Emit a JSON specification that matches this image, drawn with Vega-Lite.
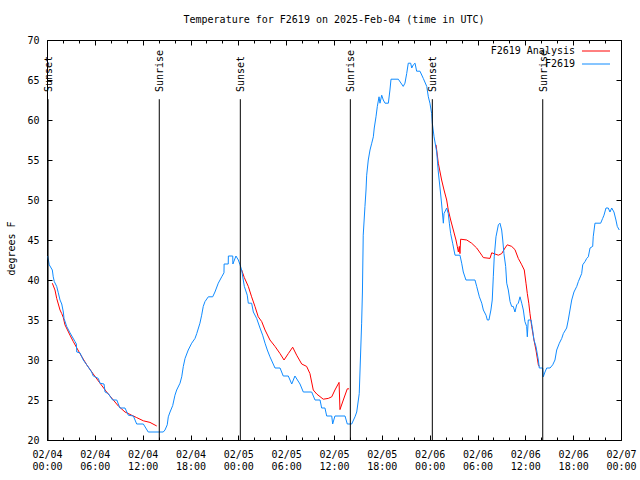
{
"$schema":"https://vega.github.io/schema/vega-lite/v6.json",
"width":574,"height":400,
"autosize":{"type":"none"},
"padding":{"left":47,"top":40,"right":19,"bottom":40},
"background":"#ffffff",
"title":{"text":"Temperature for F2619 on 2025-Feb-04 (time in UTC)","font":"DejaVu Sans Mono","fontSize":10,"fontWeight":"normal","color":"#000000","anchor":"middle","baseline":"alphabetic","offset":2,"frame":"group"},
"config":{
"view":{"stroke":null},
"font":"DejaVu Sans Mono",
"axis":{"labelFont":"DejaVu Sans Mono","labelFontSize":10,"labelColor":"#000000","titleFont":"DejaVu Sans Mono","titleFontSize":10,"titleFontWeight":"normal","titleColor":"#000000","tickColor":"#000000","domainColor":"#000000","grid":false,"tickWidth":1,"domainWidth":1}
},
"datasets":{
"obs":[
{"t":"2025-02-04T00:05Z","v":43},{"t":"2025-02-04T00:17Z","v":41.9},{"t":"2025-02-04T00:40Z","v":41.25},{"t":"2025-02-04T00:47Z","v":40.4},{"t":"2025-02-04T00:55Z","v":39.8},{"t":"2025-02-04T01:13Z","v":39.2},{"t":"2025-02-04T01:25Z","v":38.4},{"t":"2025-02-04T01:38Z","v":37.5},{"t":"2025-02-04T01:51Z","v":37},{"t":"2025-02-04T02:03Z","v":36},{"t":"2025-02-04T02:08Z","v":35.2},{"t":"2025-02-04T02:28Z","v":34.2},{"t":"2025-02-04T02:53Z","v":33.4},{"t":"2025-02-04T03:31Z","v":32.3},{"t":"2025-02-04T03:41Z","v":32},{"t":"2025-02-04T03:44Z","v":31},{"t":"2025-02-04T04:08Z","v":30.9},{"t":"2025-02-04T04:33Z","v":30},{"t":"2025-02-04T04:59Z","v":29.4},{"t":"2025-02-04T05:36Z","v":28.5},{"t":"2025-02-04T05:48Z","v":28},{"t":"2025-02-04T06:26Z","v":27.7},{"t":"2025-02-04T06:39Z","v":27.1},{"t":"2025-02-04T07:09Z","v":27},{"t":"2025-02-04T07:17Z","v":26},{"t":"2025-02-04T07:41Z","v":25.8},{"t":"2025-02-04T08:14Z","v":25},{"t":"2025-02-04T08:45Z","v":25},{"t":"2025-02-04T09:09Z","v":24},{"t":"2025-02-04T09:47Z","v":24},{"t":"2025-02-04T10:12Z","v":23.1},{"t":"2025-02-04T10:50Z","v":23},{"t":"2025-02-04T11:15Z","v":22},{"t":"2025-02-04T12:05Z","v":22},{"t":"2025-02-04T12:42Z","v":21},{"t":"2025-02-04T14:35Z","v":21},{"t":"2025-02-04T14:48Z","v":21.25},{"t":"2025-02-04T15:05Z","v":21.9},{"t":"2025-02-04T15:13Z","v":22.9},{"t":"2025-02-04T15:26Z","v":23.5},{"t":"2025-02-04T15:46Z","v":24.3},{"t":"2025-02-04T16:03Z","v":25.6},{"t":"2025-02-04T16:16Z","v":26.25},{"t":"2025-02-04T16:41Z","v":27.1},{"t":"2025-02-04T16:54Z","v":27.9},{"t":"2025-02-04T17:06Z","v":29.2},{"t":"2025-02-04T17:19Z","v":30.2},{"t":"2025-02-04T17:43Z","v":31.25},{"t":"2025-02-04T18:09Z","v":32.1},{"t":"2025-02-04T18:34Z","v":32.7},{"t":"2025-02-04T18:47Z","v":33.3},{"t":"2025-02-04T19:11Z","v":34.6},{"t":"2025-02-04T19:24Z","v":35.6},{"t":"2025-02-04T19:36Z","v":36.7},{"t":"2025-02-04T19:49Z","v":37.3},{"t":"2025-02-04T20:14Z","v":37.9},{"t":"2025-02-04T20:47Z","v":37.9},{"t":"2025-02-04T21:04Z","v":38.5},{"t":"2025-02-04T21:29Z","v":39.6},{"t":"2025-02-04T21:55Z","v":40.4},{"t":"2025-02-04T22:12Z","v":40.9},{"t":"2025-02-04T22:13Z","v":42},{"t":"2025-02-04T22:44Z","v":42},{"t":"2025-02-04T22:45Z","v":43},{"t":"2025-02-04T23:18Z","v":43},{"t":"2025-02-04T23:19Z","v":42},{"t":"2025-02-04T23:42Z","v":43},
{"t":"2025-02-05T00:00Z","v":42.5},{"t":"2025-02-05T00:13Z","v":41.9},{"t":"2025-02-05T00:25Z","v":41.25},{"t":"2025-02-05T00:45Z","v":39.2},{"t":"2025-02-05T01:07Z","v":38.1},{"t":"2025-02-05T01:15Z","v":37.1},{"t":"2025-02-05T01:40Z","v":37.1},{"t":"2025-02-05T01:53Z","v":36},{"t":"2025-02-05T02:18Z","v":35.2},{"t":"2025-02-05T02:43Z","v":34},{"t":"2025-02-05T03:03Z","v":33.1},{"t":"2025-02-05T03:21Z","v":32.1},{"t":"2025-02-05T03:38Z","v":31.25},{"t":"2025-02-05T03:58Z","v":30.4},{"t":"2025-02-05T04:36Z","v":29},{"t":"2025-02-05T05:14Z","v":29},{"t":"2025-02-05T05:38Z","v":28},{"t":"2025-02-05T06:16Z","v":28},{"t":"2025-02-05T06:42Z","v":27},{"t":"2025-02-05T07:06Z","v":28},{"t":"2025-02-05T07:44Z","v":27},{"t":"2025-02-05T08:09Z","v":26},{"t":"2025-02-05T09:12Z","v":26},{"t":"2025-02-05T09:37Z","v":25},{"t":"2025-02-05T10:15Z","v":25},{"t":"2025-02-05T10:27Z","v":24},{"t":"2025-02-05T10:52Z","v":24},{"t":"2025-02-05T11:05Z","v":23},{"t":"2025-02-05T11:43Z","v":23},{"t":"2025-02-05T11:50Z","v":22},{"t":"2025-02-05T12:07Z","v":23},{"t":"2025-02-05T13:23Z","v":23},{"t":"2025-02-05T13:40Z","v":22},{"t":"2025-02-05T14:13Z","v":22},{"t":"2025-02-05T14:38Z","v":22.9},{"t":"2025-02-05T14:51Z","v":23.5},{"t":"2025-02-05T15:10Z","v":25.8},{"t":"2025-02-05T15:28Z","v":34.6},{"t":"2025-02-05T15:34Z","v":38.5},{"t":"2025-02-05T15:40Z","v":45.6},{"t":"2025-02-05T15:53Z","v":49.2},{"t":"2025-02-05T16:01Z","v":51.25},{"t":"2025-02-05T16:06Z","v":53.1},{"t":"2025-02-05T16:18Z","v":55},{"t":"2025-02-05T16:31Z","v":56.25},{"t":"2025-02-05T16:44Z","v":57.1},{"t":"2025-02-05T16:56Z","v":57.9},{"t":"2025-02-05T17:03Z","v":59},{"t":"2025-02-05T17:16Z","v":60.4},{"t":"2025-02-05T17:26Z","v":61.7},{"t":"2025-02-05T17:39Z","v":62.9},{"t":"2025-02-05T17:46Z","v":62.1},{"t":"2025-02-05T17:59Z","v":63.1},{"t":"2025-02-05T18:11Z","v":62.5},{"t":"2025-02-05T18:24Z","v":62.1},{"t":"2025-02-05T18:49Z","v":62.1},{"t":"2025-02-05T19:01Z","v":63.75},{"t":"2025-02-05T19:09Z","v":65.1},{"t":"2025-02-05T20:04Z","v":65.1},{"t":"2025-02-05T20:41Z","v":64.2},{"t":"2025-02-05T20:54Z","v":64.6},{"t":"2025-02-05T21:07Z","v":65.8},{"t":"2025-02-05T21:19Z","v":67.1},{"t":"2025-02-05T21:37Z","v":67.1},{"t":"2025-02-05T21:45Z","v":66.5},{"t":"2025-02-05T21:57Z","v":66.9},{"t":"2025-02-05T22:10Z","v":67.1},{"t":"2025-02-05T22:22Z","v":66.1},{"t":"2025-02-05T22:47Z","v":66.1},{"t":"2025-02-05T23:12Z","v":65.2},{"t":"2025-02-05T23:38Z","v":64.2},{"t":"2025-02-05T23:50Z","v":62.9},
{"t":"2025-02-06T00:02Z","v":62.1},{"t":"2025-02-06T00:15Z","v":60.8},{"t":"2025-02-06T00:20Z","v":59.6},{"t":"2025-02-06T00:33Z","v":57.9},{"t":"2025-02-06T00:53Z","v":56},{"t":"2025-02-06T01:05Z","v":53.5},{"t":"2025-02-06T01:18Z","v":51.5},{"t":"2025-02-06T01:30Z","v":49.5},{"t":"2025-02-06T01:43Z","v":47.1},{"t":"2025-02-06T01:48Z","v":48.3},{"t":"2025-02-06T02:08Z","v":49},{"t":"2025-02-06T02:20Z","v":48.3},{"t":"2025-02-06T02:28Z","v":47.1},{"t":"2025-02-06T02:38Z","v":45.8},{"t":"2025-02-06T02:53Z","v":44.6},{"t":"2025-02-06T03:03Z","v":43.75},{"t":"2025-02-06T03:11Z","v":43.1},{"t":"2025-02-06T03:48Z","v":43.1},{"t":"2025-02-06T04:01Z","v":42.1},{"t":"2025-02-06T04:13Z","v":41},{"t":"2025-02-06T04:33Z","v":40},{"t":"2025-02-06T05:41Z","v":40},{"t":"2025-02-06T05:54Z","v":39.2},{"t":"2025-02-06T06:14Z","v":37.9},{"t":"2025-02-06T06:32Z","v":37.1},{"t":"2025-02-06T06:44Z","v":36.25},{"t":"2025-02-06T07:04Z","v":35.6},{"t":"2025-02-06T07:14Z","v":35},{"t":"2025-02-06T07:26Z","v":35},{"t":"2025-02-06T07:41Z","v":36.25},{"t":"2025-02-06T07:51Z","v":37.5},{"t":"2025-02-06T07:59Z","v":40.4},{"t":"2025-02-06T08:06Z","v":42.9},{"t":"2025-02-06T08:19Z","v":45.4},{"t":"2025-02-06T08:37Z","v":46.9},{"t":"2025-02-06T08:49Z","v":47.1},{"t":"2025-02-06T09:02Z","v":46.25},{"t":"2025-02-06T09:10Z","v":45},{"t":"2025-02-06T09:19Z","v":43.3},{"t":"2025-02-06T09:32Z","v":41.7},{"t":"2025-02-06T09:40Z","v":39.6},{"t":"2025-02-06T09:52Z","v":38.75},{"t":"2025-02-06T10:05Z","v":37.3},{"t":"2025-02-06T10:17Z","v":36.7},{"t":"2025-02-06T10:29Z","v":36.7},{"t":"2025-02-06T10:42Z","v":36},{"t":"2025-02-06T10:55Z","v":36.9},{"t":"2025-02-06T11:07Z","v":37.1},{"t":"2025-02-06T11:20Z","v":37.9},{"t":"2025-02-06T11:33Z","v":37.1},{"t":"2025-02-06T11:45Z","v":36.25},{"t":"2025-02-06T11:57Z","v":34.8},{"t":"2025-02-06T12:10Z","v":34.2},{"t":"2025-02-06T12:15Z","v":32.9},{"t":"2025-02-06T12:22Z","v":35},{"t":"2025-02-06T12:43Z","v":35},{"t":"2025-02-06T12:55Z","v":33.75},{"t":"2025-02-06T13:05Z","v":32.5},{"t":"2025-02-06T13:20Z","v":31.7},{"t":"2025-02-06T13:38Z","v":30},{"t":"2025-02-06T13:45Z","v":29},{"t":"2025-02-06T14:11Z","v":29},{"t":"2025-02-06T14:15Z","v":27.9},{"t":"2025-02-06T14:28Z","v":28.5},{"t":"2025-02-06T14:41Z","v":29},{"t":"2025-02-06T15:06Z","v":29},{"t":"2025-02-06T15:26Z","v":29.4},{"t":"2025-02-06T15:43Z","v":30},{"t":"2025-02-06T15:56Z","v":31.25},{"t":"2025-02-06T16:16Z","v":32.1},{"t":"2025-02-06T16:34Z","v":32.7},{"t":"2025-02-06T16:46Z","v":33.3},{"t":"2025-02-06T17:11Z","v":34},{"t":"2025-02-06T17:23Z","v":35},{"t":"2025-02-06T17:36Z","v":36.25},{"t":"2025-02-06T17:49Z","v":37.5},{"t":"2025-02-06T18:06Z","v":38.5},{"t":"2025-02-06T18:27Z","v":39.2},{"t":"2025-02-06T18:39Z","v":39.8},{"t":"2025-02-06T19:04Z","v":40.8},{"t":"2025-02-06T19:12Z","v":41.9},{"t":"2025-02-06T19:29Z","v":42.3},{"t":"2025-02-06T19:42Z","v":42.7},{"t":"2025-02-06T19:54Z","v":42.9},{"t":"2025-02-06T20:07Z","v":44},{"t":"2025-02-06T20:27Z","v":44.2},{"t":"2025-02-06T20:31Z","v":45.4},{"t":"2025-02-06T20:44Z","v":47.1},{"t":"2025-02-06T21:27Z","v":47.1},{"t":"2025-02-06T21:42Z","v":47.7},{"t":"2025-02-06T21:52Z","v":48.1},{"t":"2025-02-06T22:07Z","v":49},{"t":"2025-02-06T22:24Z","v":49},{"t":"2025-02-06T22:37Z","v":48.5},{"t":"2025-02-06T22:50Z","v":49},{"t":"2025-02-06T23:07Z","v":48.5},{"t":"2025-02-06T23:22Z","v":47.5},{"t":"2025-02-06T23:32Z","v":46.7},{"t":"2025-02-06T23:47Z","v":46.25}
],
"ana":[
{"t":"2025-02-04T00:40Z","v":39.6,"seg":1},{"t":"2025-02-04T01:00Z","v":38.75,"seg":1},{"t":"2025-02-04T01:13Z","v":37.7,"seg":1},{"t":"2025-02-04T01:38Z","v":36.25,"seg":1},{"t":"2025-02-04T01:51Z","v":35.8,"seg":1},{"t":"2025-02-04T02:03Z","v":35.3,"seg":1},{"t":"2025-02-04T02:15Z","v":34.4,"seg":1},{"t":"2025-02-04T02:53Z","v":33.1,"seg":1},{"t":"2025-02-04T03:18Z","v":32.3,"seg":1},{"t":"2025-02-04T04:08Z","v":30.8,"seg":1},{"t":"2025-02-04T04:59Z","v":29.4,"seg":1},{"t":"2025-02-04T05:48Z","v":28.25,"seg":1},{"t":"2025-02-04T06:39Z","v":27.1,"seg":1},{"t":"2025-02-04T07:29Z","v":26,"seg":1},{"t":"2025-02-04T08:19Z","v":25,"seg":1},{"t":"2025-02-04T08:57Z","v":24.25,"seg":1},{"t":"2025-02-04T09:47Z","v":23.5,"seg":1},{"t":"2025-02-04T10:37Z","v":23.1,"seg":1},{"t":"2025-02-04T11:15Z","v":22.8,"seg":1},{"t":"2025-02-04T12:05Z","v":22.4,"seg":1},{"t":"2025-02-04T12:55Z","v":22.2,"seg":1},{"t":"2025-02-04T13:46Z","v":21.75,"seg":1},
{"t":"2025-02-05T00:25Z","v":41.25,"seg":2},{"t":"2025-02-05T00:45Z","v":40.3,"seg":2},{"t":"2025-02-05T01:15Z","v":39.2,"seg":2},{"t":"2025-02-05T01:40Z","v":37.9,"seg":2},{"t":"2025-02-05T02:05Z","v":36.7,"seg":2},{"t":"2025-02-05T02:30Z","v":35.4,"seg":2},{"t":"2025-02-05T02:56Z","v":34.8,"seg":2},{"t":"2025-02-05T03:21Z","v":33.75,"seg":2},{"t":"2025-02-05T03:58Z","v":32.5,"seg":2},{"t":"2025-02-05T04:36Z","v":31.7,"seg":2},{"t":"2025-02-05T05:14Z","v":30.8,"seg":2},{"t":"2025-02-05T05:44Z","v":30,"seg":2},{"t":"2025-02-05T06:16Z","v":30.8,"seg":2},{"t":"2025-02-05T06:49Z","v":31.6,"seg":2},{"t":"2025-02-05T07:19Z","v":30.6,"seg":2},{"t":"2025-02-05T07:57Z","v":29.5,"seg":2},{"t":"2025-02-05T08:34Z","v":29.2,"seg":2},{"t":"2025-02-05T08:59Z","v":28.3,"seg":2},{"t":"2025-02-05T09:24Z","v":26.25,"seg":2},{"t":"2025-02-05T09:50Z","v":25.75,"seg":2},{"t":"2025-02-05T10:39Z","v":25.1,"seg":2},{"t":"2025-02-05T11:17Z","v":25.2,"seg":2},{"t":"2025-02-05T11:43Z","v":25.4,"seg":2},{"t":"2025-02-05T12:07Z","v":26.25,"seg":2},{"t":"2025-02-05T12:38Z","v":27.2,"seg":2},{"t":"2025-02-05T12:45Z","v":23.8,"seg":2},{"t":"2025-02-05T13:10Z","v":25,"seg":2},{"t":"2025-02-05T13:40Z","v":26.4,"seg":2},{"t":"2025-02-05T13:53Z","v":26.4,"seg":2},
{"t":"2025-02-06T00:48Z","v":56.9,"seg":3},{"t":"2025-02-06T01:05Z","v":54.6,"seg":3},{"t":"2025-02-06T01:30Z","v":52.5,"seg":3},{"t":"2025-02-06T01:48Z","v":51.25,"seg":3},{"t":"2025-02-06T02:08Z","v":50,"seg":3},{"t":"2025-02-06T02:20Z","v":48.75,"seg":3},{"t":"2025-02-06T02:38Z","v":47.5,"seg":3},{"t":"2025-02-06T02:58Z","v":46.25,"seg":3},{"t":"2025-02-06T03:18Z","v":45,"seg":3},{"t":"2025-02-06T03:28Z","v":44.2,"seg":3},{"t":"2025-02-06T03:36Z","v":43.5,"seg":3},{"t":"2025-02-06T03:43Z","v":44.2,"seg":3},{"t":"2025-02-06T03:48Z","v":43.3,"seg":3},{"t":"2025-02-06T03:53Z","v":45.1,"seg":3},{"t":"2025-02-06T04:39Z","v":45,"seg":3},{"t":"2025-02-06T05:16Z","v":44.6,"seg":3},{"t":"2025-02-06T05:54Z","v":44,"seg":3},{"t":"2025-02-06T06:32Z","v":43.1,"seg":3},{"t":"2025-02-06T06:44Z","v":42.8,"seg":3},{"t":"2025-02-06T07:34Z","v":42.7,"seg":3},{"t":"2025-02-06T07:47Z","v":43.4,"seg":3},{"t":"2025-02-06T08:12Z","v":43.25,"seg":3},{"t":"2025-02-06T08:37Z","v":43.1,"seg":3},{"t":"2025-02-06T09:02Z","v":43.3,"seg":3},{"t":"2025-02-06T09:27Z","v":44,"seg":3},{"t":"2025-02-06T09:44Z","v":44.4,"seg":3},{"t":"2025-02-06T10:17Z","v":44.2,"seg":3},{"t":"2025-02-06T10:42Z","v":43.8,"seg":3},{"t":"2025-02-06T11:07Z","v":42.7,"seg":3},{"t":"2025-02-06T11:33Z","v":41.9,"seg":3},{"t":"2025-02-06T11:52Z","v":41.25,"seg":3},{"t":"2025-02-06T12:05Z","v":39.6,"seg":3},{"t":"2025-02-06T12:15Z","v":38.3,"seg":3},{"t":"2025-02-06T12:26Z","v":37.1,"seg":3},{"t":"2025-02-06T12:35Z","v":35.8,"seg":3},{"t":"2025-02-06T12:48Z","v":34.2,"seg":3},{"t":"2025-02-06T13:05Z","v":32.5,"seg":3},{"t":"2025-02-06T13:20Z","v":31.25,"seg":3},{"t":"2025-02-06T13:38Z","v":29.4,"seg":3},{"t":"2025-02-06T13:45Z","v":29.2,"seg":3}
],
"events":[
{"t":"2025-02-04T00:08Z","label":"Sunset"},{"t":"2025-02-04T14:05Z","label":"Sunrise"},{"t":"2025-02-05T00:15Z","label":"Sunset"},{"t":"2025-02-05T14:03Z","label":"Sunrise"},{"t":"2025-02-06T00:20Z","label":"Sunset"},{"t":"2025-02-06T14:11Z","label":"Sunrise"}
]
},
"layer":[
{
"data":{"name":"ana"},
"mark":{"type":"line","strokeWidth":1},
"encoding":{
"x":{"field":"t","type":"temporal","scale":{"type":"utc","domain":[1738627200000,1738886400000]},
"axis":{"orient":"bottom","title":null,"values":[1738627200000,1738648800000,1738670400000,1738692000000,1738713600000,1738735200000,1738756800000,1738778400000,1738800000000,1738821600000,1738843200000,1738864800000,1738886400000],"tickSize":-5,"labelPadding":14,"labelExpr":"[utcFormat(datum.value,'%m/%d'), utcFormat(datum.value,'%H:%M')]","labelLineHeight":12,"labelBaseline":"top","labelFlush":false,"labelOverlap":false,"domain":true}},
"y":{"field":"v","type":"quantitative","scale":{"domain":[20,70],"nice":false,"zero":false},
"axis":{"orient":"left","title":"degrees F","values":[20,25,30,35,40,45,50,55,60,65,70],"tickSize":-5,"labelPadding":13,"titleX":-36,"titleY":208,"titleAngle":270,"titleAlign":"center","titleBaseline":"middle","domain":true}},
"color":{"datum":"F2619 Analysis","type":"nominal","scale":{"domain":["F2619 Analysis","F2619"],"range":["#ff0000","#0f8bff"]},
"legend":{"orient":"none","legendX":542,"legendY":4,"title":null,"symbolType":"M-2.154,0H2.154","symbolSize":169,"symbolStrokeWidth":1,"labelAlign":"right","labelOffset":-28,"labelFont":"DejaVu Sans Mono","labelFontSize":10,"labelColor":"#000000","padding":0,"rowPadding":1,"labelLimit":300,
"encode":{"symbols":{"update":{"stroke":{"scale":"color","field":"value"},"strokeWidth":{"value":1},"strokeOpacity":{"value":1},"opacity":{"value":1}}}}}},
"detail":{"field":"seg","type":"nominal"}
}
},
{
"data":{"name":"obs"},
"mark":{"type":"line","strokeWidth":1},
"encoding":{
"x":{"field":"t","type":"temporal","axis":{"orient":"bottom","title":null,"values":[1738627200000,1738634400000,1738641600000,1738648800000,1738656000000,1738663200000,1738670400000,1738677600000,1738684800000,1738692000000,1738699200000,1738706400000,1738713600000,1738720800000,1738728000000,1738735200000,1738742400000,1738749600000,1738756800000,1738764000000,1738771200000,1738778400000,1738785600000,1738792800000,1738800000000,1738807200000,1738814400000,1738821600000,1738828800000,1738836000000,1738843200000,1738850400000,1738857600000,1738864800000,1738872000000,1738879200000,1738886400000],"tickSize":-3,"labels":false,"domain":false}},
"y":{"field":"v","type":"quantitative","axis":{"orient":"right","title":null,"values":[20,25,30,35,40,45,50,55,60,65,70],"tickSize":-5,"labels":false,"domain":true}},
"color":{"datum":"F2619","type":"nominal"}
}
},
{
"data":{"name":"events"},
"mark":{"type":"rule","color":"#000000","strokeWidth":1},
"encoding":{
"x":{"field":"t","type":"temporal","axis":{"orient":"top","title":null,"values":[1738627200000,1738648800000,1738670400000,1738692000000,1738713600000,1738735200000,1738756800000,1738778400000,1738800000000,1738821600000,1738843200000,1738864800000,1738886400000],"tickSize":-5,"labels":false,"domain":true}},
"y":{"datum":20,"type":"quantitative","axis":{"orient":"left","title":null,"labels":false,"ticks":false,"domain":false}},
"y2":{"datum":62.6}
}
},
{
"data":{"name":"events"},
"mark":{"type":"text","angle":270,"align":"left","baseline":"middle","font":"DejaVu Sans Mono","fontSize":10,"color":"#000000","dy":1},
"encoding":{
"x":{"field":"t","type":"temporal","axis":{"orient":"top","title":null,"values":[1738627200000,1738634400000,1738641600000,1738648800000,1738656000000,1738663200000,1738670400000,1738677600000,1738684800000,1738692000000,1738699200000,1738706400000,1738713600000,1738720800000,1738728000000,1738735200000,1738742400000,1738749600000,1738756800000,1738764000000,1738771200000,1738778400000,1738785600000,1738792800000,1738800000000,1738807200000,1738814400000,1738821600000,1738828800000,1738836000000,1738843200000,1738850400000,1738857600000,1738864800000,1738872000000,1738879200000,1738886400000],"tickSize":-3,"labels":false,"domain":false}},
"y":{"datum":63.5,"type":"quantitative","axis":{"orient":"left","title":null,"labels":false,"ticks":false,"domain":false}},
"text":{"field":"label"}
}
}
],
"resolve":{"axis":{"x":"independent","y":"independent"}}
}
